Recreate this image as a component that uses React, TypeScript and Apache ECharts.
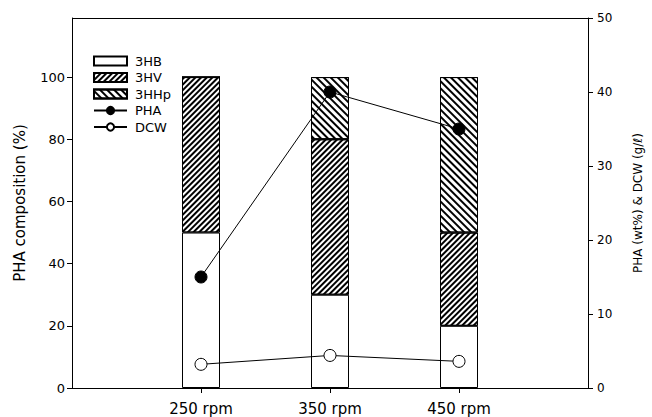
import React, { useEffect, useRef } from "react";
import * as echarts from "echarts";

const categories = ["", "250 rpm", "350 rpm", "450 rpm", ""];
const hb3 = [null, 50, 30, 20, null];
const hv3 = [null, 50, 50, 30, null];
const hhp3 = [null, 0, 20, 50, null];
const pha = [null, 15, 40, 35, null];
const dcw = [null, 3.2, 4.4, 3.6, null];
const leftTicks = [0, 20, 40, 60, 80, 100];
const rightTicks = [0, 10, 20, 30, 40, 50];

const FONT = "DejaVu Sans, Liberation Sans, Arial, sans-serif";
const CLEAR = "rgba(0,0,0,0)";

export default function App() {
  const ref = useRef<HTMLDivElement>(null);
  useEffect(() => {
    const chart = echarts.init(ref.current!, null, { renderer: "svg" });
    const barBase = {
      type: "bar",
      stack: "comp",
      barWidth: 38,
      yAxisIndex: 0,
      xAxisIndex: 0,
      z: 2,
    };
    chart.setOption({
      animation: false,
      backgroundColor: "#fff",
      textStyle: { fontFamily: FONT, color: "#000" },
      grid: {
        left: 72,
        right: 64,
        top: 18,
        bottom: 29,
      },
      legend: {
        orient: "vertical",
        left: 88,
        top: 49,
        itemWidth: 33,
        itemHeight: 9,
        itemGap: 2.5,
        textStyle: { fontFamily: FONT, fontSize: 13, color: "#000", lineHeight: 14, padding: [0, 0, 0, 3] },
        data: [
          { name: "3HB", icon: "rect" },
          { name: "3HV", icon: "rect" },
          { name: "3HHp", icon: "rect" },
          { name: "PHA" },
          { name: "DCW" },
        ],
      },
      xAxis: {
        type: "category",
        data: categories,
        boundaryGap: false,
        axisLine: { onZero: false, lineStyle: { color: "#000", width: 1 } },
        axisTick: {
          inside: false,
          length: 5,
          interval: (i: number) => i >= 1 && i <= 3,
          lineStyle: { color: "#000" },
        },
        axisLabel: {
          interval: (i: number) => i >= 1 && i <= 3,
          fontSize: 15,
          color: "#000",
          fontFamily: FONT,
          margin: 13,
        },
        splitLine: { show: false },
      },
      yAxis: [
        {
          type: "value",
          min: 0,
          max: 119,
          interval: 20,
          name: "PHA composition (%)",
          nameLocation: "middle",
          nameRotate: 90,
          nameGap: 45,
          nameTextStyle: { fontSize: 15, fontFamily: FONT, color: "#000" },
          axisLine: { show: true, lineStyle: { color: "#000", width: 1 } },
          axisTick: { show: true, length: 5, lineStyle: { color: "#000" }, customValues: leftTicks },
          axisLabel: { fontSize: 13, color: "#000", fontFamily: FONT, margin: 7, customValues: leftTicks },
          splitLine: { show: false },
        },
        {
          type: "value",
          min: 0,
          max: 50,
          interval: 10,
          position: "right",
          name: "PHA (wt%) & DCW (g/ℓ)",
          nameLocation: "middle",
          nameRotate: 90,
          nameGap: 44,
          nameTextStyle: { fontSize: 12, fontFamily: FONT, color: "#000" },
          axisLine: { show: true, lineStyle: { color: "#000", width: 1 } },
          axisTick: { show: true, length: 5, lineStyle: { color: "#000" } },
          axisLabel: { fontSize: 12, color: "#000", fontFamily: FONT, margin: 9 },
          splitLine: {
            show: true,
            lineStyle: {
              width: 1,
              type: "solid",
              color: [CLEAR, CLEAR, CLEAR, CLEAR, CLEAR, "#000"],
            },
          },
        },
      ],
      series: [
        {
          ...barBase,
          name: "3HB",
          data: hb3,
          itemStyle: { color: "#fff", borderColor: "#000", borderWidth: 1 },
        },
        {
          ...barBase,
          name: "3HV",
          data: hv3,
          itemStyle: {
            color: "#fff",
            borderColor: "#000",
            borderWidth: 1,
            decal: {
              symbol: "rect",
              symbolSize: 1,
              dashArrayX: [[1, 0]],
              dashArrayY: [1.2, 2.0],
              rotation: -Math.PI / 4,
              color: "#000",
              backgroundColor: "#fff",
            },
          },
        },
        {
          ...barBase,
          name: "3HHp",
          data: hhp3,
          itemStyle: {
            color: "#fff",
            borderColor: "#000",
            borderWidth: 1,
            decal: {
              symbol: "rect",
              symbolSize: 1,
              dashArrayX: [[1, 0]],
              dashArrayY: [1.3, 2.6],
              rotation: Math.PI / 4,
              color: "#000",
              backgroundColor: "#fff",
            },
          },
        },
        {
          type: "line",
          name: "PHA",
          yAxisIndex: 1,
          data: pha,
          z: 5,
          symbol: "circle",
          symbolSize: 12,
          lineStyle: { color: "#000", width: 1 },
          itemStyle: { color: "#000", borderColor: "#000", borderWidth: 1 },
        },
        {
          type: "line",
          name: "DCW",
          yAxisIndex: 1,
          data: dcw,
          z: 5,
          symbol: "circle",
          symbolSize: 12,
          lineStyle: { color: "#000", width: 1 },
          itemStyle: { color: "#fff", borderColor: "#000", borderWidth: 1 },
        },
      ],
    });
    return () => chart.dispose();
  }, []);
  return <div ref={ref} style={{ width: 652, height: 417, position: "absolute", left: 0, top: 0 }} />;
}
